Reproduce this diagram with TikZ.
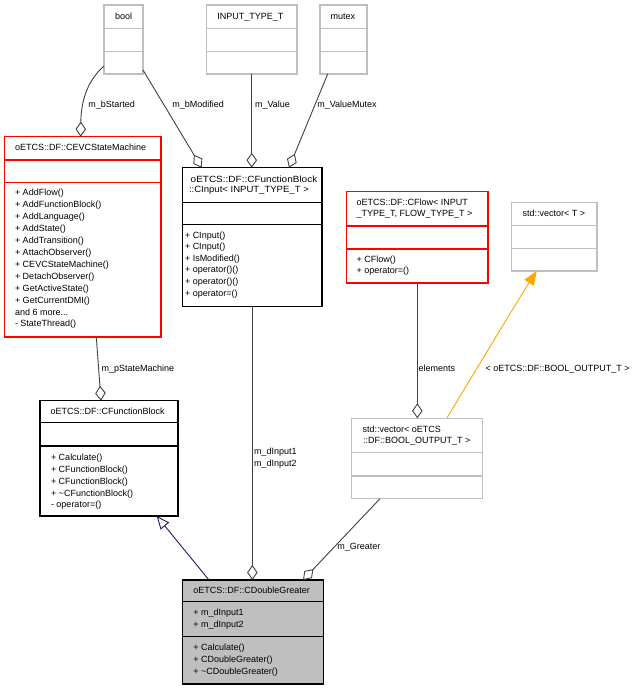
\documentclass[tikz,border=0pt]{standalone}
\usepackage{fontspec}
\usepackage{graphicx}
\setmainfont{Liberation Sans}
\usetikzlibrary{arrows.meta}
\definecolor{boxgray}{HTML}{BFBFBF}
\definecolor{edgegray}{HTML}{404040}
\definecolor{inhnavy}{HTML}{191970}
\definecolor{tplorange}{HTML}{FFA500}
\tikzset{
  umlbox/.style={draw, line width=1.2pt, inner sep=0pt, outer sep=0pt, anchor=north west},
  graybox/.style={umlbox, draw=boxgray},
  redbox/.style={umlbox, draw=red},
  blackbox/.style={umlbox, draw=black},
  mainbox/.style={umlbox, draw=black, fill=boxgray},
  txt/.style={anchor=base west, inner sep=0pt, outer sep=0pt, font=\fontsize{9}{11}\selectfont},
  assoc/.style={draw=edgegray, line width=0.9pt, -{Diamond[fill=white, length=15pt, width=10.5pt, line width=0.9pt]}},
  inherit/.style={draw=inhnavy, line width=0.9pt, -{Triangle[fill=white, length=13pt, width=11pt, line width=0.9pt]}},
  tmpl/.style={draw=tplorange, line width=0.9pt, -{Triangle[fill=tplorange, length=14pt, width=11pt]}},
}
\newcommand\divline[3]{\draw[line width=1.2pt, #3] ([yshift=-#2pt]#1.north west) -- ([yshift=-#2pt]#1.north east);}
\newcommand\txtlines[5]{\foreach \t [count=\i] in {#5} {\node[txt] (#1\i) at (#2,{#3+#4*(\i-1)}) {\t};}}
\begin{document}
\begin{tikzpicture}[x=1pt, y=-1pt]
\useasboundingbox (0,0) rectangle (636,691);

% ---------- top template argument boxes ----------
\node[graybox, minimum width=39pt, minimum height=69pt] (bool) at (104,5) {};
\divline{bool}{23.3}{boxgray}\divline{bool}{46.7}{boxgray}
\node[txt] (boolt) at (115,19.5) {bool};

\node[graybox, minimum width=90.5pt, minimum height=69pt] (inputtype) at (206.5,5) {};
\divline{inputtype}{23.3}{boxgray}\divline{inputtype}{46.7}{boxgray}
\node[txt] (inputtypet) at (217.3,19.5) {INPUT\_TYPE\_T};

\node[graybox, minimum width=47pt, minimum height=69pt] (mutex) at (320,5) {};
\divline{mutex}{23.3}{boxgray}\divline{mutex}{46.7}{boxgray}
\node[txt] (mutext) at (330.7,19.5) {mutex};

% ---------- CEVCStateMachine ----------
\node[redbox, minimum width=156.3pt, minimum height=200.3pt] (cevc) at (4.7,136.7) {};
\divline{cevc}{23.3}{red}\divline{cevc}{45.6}{red}
\node[txt] (cevct) at (15,150.7) {oETCS::DF::CEVCStateMachine};
\txtlines{cevcm}{15}{195.3}{11.97}{+ AddFlow(),+ AddFunctionBlock(),+ AddLanguage(),+ AddState(),+ AddTransition(),+ AttachObserver(),+ CEVCStateMachine(),+ DetachObserver(),+ GetActiveState(),+ GetCurrentDMI(),and 6 more.{}.{}.,- StateThread()}

% ---------- CInput ----------
\node[blackbox, minimum width=139.3pt, minimum height=139pt] (cinput) at (182.7,167.7) {};
\divline{cinput}{34.6}{black}\divline{cinput}{56.6}{black}
\node[txt] (cinputt1) at (190.7,182) {\scalebox{1.11}[1]{oETCS::DF::CFunctionBlock}};
\node[txt] (cinputt2) at (189,192) {\scalebox{1.06}[1]{::CInput< INPUT\_TYPE\_T >}};
\txtlines{cinputm}{185}{238.3}{11.55}{+ CInput(),+ CInput(),+ IsModified(),+ operator()(),+ operator()(),+ operator=()}

% ---------- CFlow ----------
\node[redbox, minimum width=141.3pt, minimum height=91.3pt] (cflow) at (346.7,191.7) {};
\divline{cflow}{34.3}{red}\divline{cflow}{57.3}{red}
\node[txt] (cflowt1) at (356.7,205) {oETCS::DF::CFlow< INPUT};
\node[txt] (cflowt2) at (356.7,216) {\_TYPE\_T, FLOW\_TYPE\_T >};
\txtlines{cflowm}{356.7}{262.3}{11.4}{+ CFlow(),+ operator=()}

% ---------- std::vector<T> ----------
\node[graybox, minimum width=85.3pt, minimum height=68.3pt] (vect) at (511.7,202.7) {};
\divline{vect}{23}{boxgray}\divline{vect}{46}{boxgray}
\node[txt] (vectt) at (522.7,216.7) {std::vector< T >};

% ---------- std::vector<BOOL_OUTPUT_T> ----------
\node[graybox, minimum width=131pt, minimum height=80.4pt] (vecb) at (351.7,418.3) {};
\divline{vecb}{34.4}{boxgray}\divline{vecb}{57.7}{boxgray}
\node[txt] (vecbt1) at (362.7,432.3) {std::vector< oETCS};
\node[txt] (vecbt2) at (363,443) {::DF::BOOL\_OUTPUT\_T >};

% ---------- CFunctionBlock ----------
\node[blackbox, minimum width=138pt, minimum height=115.3pt] (cfb) at (40,400.7) {};
\divline{cfb}{21.6}{black}\divline{cfb}{45.3}{black}
\node[txt] (cfbt) at (50.7,414) {oETCS::DF::CFunctionBlock};
\txtlines{cfbm}{51}{460.3}{11.92}{+ Calculate(),+ CFunctionBlock(),+ CFunctionBlock(),+ \textasciitilde CFunctionBlock(),- operator=()}

% ---------- CDoubleGreater ----------
\node[mainbox, minimum width=140.6pt, minimum height=104pt] (cdg) at (182.7,580) {};
\divline{cdg}{21.7}{black}\divline{cdg}{56.7}{black}
\node[txt] (cdgt) at (193.3,593.3) {oETCS::DF::CDoubleGreater};
\txtlines{cdga}{193.3}{615.7}{12}{+ m\_dInput1,+ m\_dInput2}
\txtlines{cdgm}{193.3}{650}{12.15}{+ Calculate(),+ CDoubleGreater(),+ \textasciitilde CDoubleGreater()}

% ---------- connectors ----------
\draw[assoc] ([yshift=8pt]bool.south west) .. controls (88,80) and (81,100) .. ([xshift=76pt]cevc.north west);
\draw[assoc] ([yshift=4pt]bool.south east) -- ([xshift=19pt]cinput.north west);
\draw[assoc] (inputtype.south) -- (inputtype.south |- cinput.north);
\draw[assoc] ([xshift=7.7pt]mutex.south west) -- ([xshift=-33pt]cinput.north east);
\draw[assoc] ([xshift=91.6pt]cevc.south west) -- ([xshift=61pt]cfb.north west);
\draw[assoc] (cinput.south) -- (cinput.south |- cdg.north);
\draw[inherit] ([xshift=26.3pt]cdg.north west) -- ([xshift=-21.3pt]cfb.south east);
\draw[assoc] (cflow.south) -- (cflow.south |- vecb.north);
\draw[tmpl] ([xshift=95pt]vecb.north west) .. controls (485,355) and (518,300) .. ([xshift=25pt]vect.south west);
\draw[assoc] ([xshift=28.3pt]vecb.south west) -- ([xshift=-20.3pt]cdg.north east);

% ---------- connector labels ----------
\node[txt] (lbstarted) at (88.3,107.5) {m\_bStarted};
\node[txt] (lbmodified) at (172.3,107.5) {m\_bModified};
\node[txt] (lvalue) at (255,107.5) {m\_Value};
\node[txt] (lvaluemutex) at (317.3,107.5) {m\_ValueMutex};
\node[txt] (lpsm) at (101.7,371.3) {m\_pStateMachine};
\node[txt] (linput1) at (254,454.3) {m\_dInput1};
\node[txt] (linput2) at (254,466.7) {m\_dInput2};
\node[txt] (lelements) at (418.7,371.7) {elements};
\node[txt] (lbool) at (485.7,371.7) {< oETCS::DF::BOOL\_OUTPUT\_T >};
\node[txt] (lgreater) at (337.3,549.3) {m\_Greater};
\end{tikzpicture}
\end{document}
